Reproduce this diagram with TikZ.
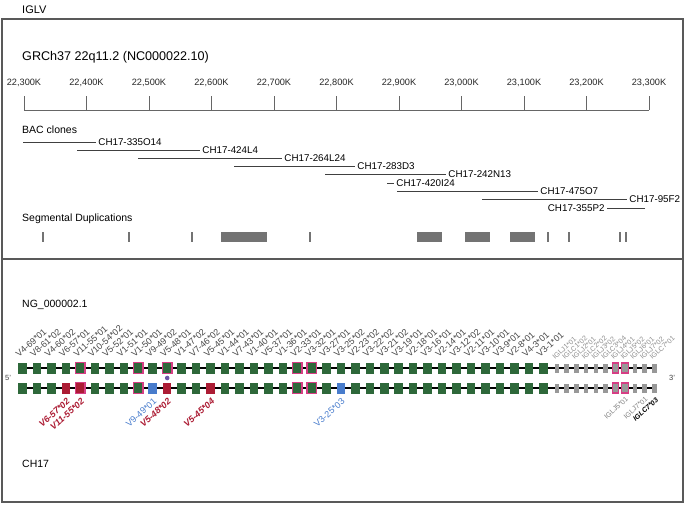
\documentclass[tikz,border=0pt]{standalone}
\usepackage{fontspec}
\setmainfont{Liberation Sans}
\usetikzlibrary{backgrounds}

\definecolor{vgreen}{RGB}{46,104,58}
\definecolor{vred}{RGB}{172,28,52}
\definecolor{vblue}{RGB}{72,124,204}
\definecolor{hilite}{RGB}{214,62,132}
\definecolor{jgray}{RGB}{152,152,152}
\definecolor{dotcol}{RGB}{112,84,168}

\begin{document}
\begin{tikzpicture}[x=1pt, y=-1pt,
    font=\fontsize{10.5}{12}\selectfont,
    frame/.style={draw=black!65, line width=1.1pt},
    heading/.style={anchor=west, inner sep=0pt},
    axis/.style={draw=black!60, line width=0.8pt},
    ticklab/.style={font=\fontsize{9.2}{10}\selectfont, text=black!85},
    clone/.style={draw=black!75, line width=0.9pt},
    clonelab/.style={font=\fontsize{9.8}{11}\selectfont, anchor=west, inner sep=2pt},
    segdup/.style={fill=black!55},
    gene/.style={inner sep=0pt, minimum width=8.5pt, minimum height=11pt},
    vg/.style={gene, fill=vgreen},
    vr/.style={gene, fill=vred},
    vb/.style={gene, fill=vblue},
    vgh/.style={vg, draw=hilite, line width=1.4pt, minimum width=9.5pt, minimum height=11.5pt},
    vrh/.style={vr, draw=hilite, line width=1.4pt, minimum width=9.5pt, minimum height=11.5pt},
    jg/.style={gene, fill=jgray, minimum width=4.5pt, minimum height=9pt},
    jh/.style={jg, draw=hilite, line width=1.2pt, minimum width=6.5pt, minimum height=10pt},
    backbone/.style={draw=black, line width=1.2pt},
    vlab/.style={font=\fontsize{9}{10}\selectfont, text=black!72, rotate=42,
                 anchor=base west, inner sep=0pt},
    jlab/.style={vlab, font=\fontsize{7}{8}\selectfont, text=black!45},
    alt/.style={font=\fontsize{9}{10}\selectfont, rotate=42, anchor=east, inner sep=0pt},
    strand/.style={font=\fontsize{7.5}{8}\selectfont, text=black!75},
]
\useasboundingbox (0,0) rectangle (685,504);

% --- panels ---
\node[heading, font=\fontsize{11}{13}\selectfont] (locus) at (22,10) {IGLV};
\draw[frame] (2,19) rectangle (683,502);
\draw[frame] (2,259) -- (683,259);

% --- genomic axis ---
\node[heading, font=\fontsize{12.6}{14}\selectfont] (asm) at (22,57) {GRCh37 22q11.2 (NC000022.10)};
\draw[axis] (24,110) -- (649,110);
\foreach \k/\lab in {0/{22,300K},1/{22,400K},2/{22,500K},3/{22,600K},4/{22,700K},
    5/{22,800K},6/{22,900K},7/{23,000K},8/{23,100K},9/{23,200K},10/{23,300K}} {
  \draw[axis] ({24+62.5*\k},96) -- ({24+62.5*\k},110);
  \node[ticklab] (tk\k) at ({24+62.5*\k},83) {\lab};
}

% --- BAC clones ---
\node[heading] (bac) at (22,130) {BAC clones};
\draw[clone] (23,142) -- (96,142) node[clonelab] (c1) {CH17-335O14};
\draw[clone] (77,150) -- (200,150) node[clonelab] (c2) {CH17-424L4};
\draw[clone] (138,158) -- (282,158) node[clonelab] (c3) {CH17-264L24};
\draw[clone] (234,166) -- (355,166) node[clonelab] (c4) {CH17-283D3};
\draw[clone] (325,174) -- (446,174) node[clonelab] (c5) {CH17-242N13};
\draw[clone] (387,183) -- (394,183) node[clonelab] (c6) {CH17-420I24};
\draw[clone] (397,191) -- (538,191) node[clonelab] (c7) {CH17-475O7};
\draw[clone] (482,199.5) -- (627,199.5) node[clonelab] (c8) {CH17-95F2};
\draw[clone] (645,208) -- (607,208) node[clonelab, anchor=east] (c9) {CH17-355P2};

% --- segmental duplications ---
\node[heading] (sd) at (22,219) {Segmental Duplications};
\foreach \a/\b in {41.5/43.5, 127.5/129.5, 190.5/192.5, 221/267, 309/311, 417/442,
    465/490, 510/535, 547/549, 568/570, 619/621, 625/627}
  \fill[segdup] (\a,232) rectangle (\b,242);

% --- IGLV genes, reference (top) and CH17 (bottom) ---
\node[heading] (ng) at (22,305) {NG\_000002.1};
\node[heading] (ch) at (22,464) {CH17};

\foreach \s [count=\i from 0] in {vg,vg,vg,vg,vgh,vg,vg,vg,vgh,vg,vgh,vg,vg,vg,vg,vg,vg,vg,vg,
    vgh,vgh,vg,vg,vg,vg,vg,vg,vg,vg,vg,vg,vg,vg,vg,vg,vg,vg}
  \node[\s] (t\i) at ({22.5+14.47*\i},368) {};
\foreach \s [count=\i from 0] in {vg,vg,vg,vr,vrh,vg,vg,vg,vgh,vb,vr,vg,vg,vr,vg,vg,vg,vg,vg,
    vgh,vgh,vg,vb,vg,vg,vg,vg,vg,vg,vg,vg,vg,vg,vg,vg,vg,vg}
  \node[\s] (b\i) at ({22.5+14.47*\i},388) {};
\foreach \s [count=\j from 0] in {jg,jg,jg,jg,jg,jg,jh,jh,jg,jg,jg} {
  \node[\s] (tj\j) at ({557+9.73*\j},368) {};
  \node[\s] (bj\j) at ({557+9.73*\j},388) {};
}
\begin{scope}[on background layer]
  \draw[backbone] (t0.center) -- (tj10.center);
  \draw[backbone] (b0.center) -- (bj10.center);
\end{scope}

\fill[dotcol] ({22.5+14.47*10},378) circle (2.3);
\node[strand] (five) at (8,378) {5'};
\node[strand] (three) at (672,378) {3'};

% --- allele names ---
\foreach \lab [count=\i from 0] in {V4-69*01,V8-61*02,V4-60*02,V6-57*01,V11-55*01,V10-54*02,
    V5-52*01,V1-51*01,V1-50*01,V9-49*02,V5-48*01,V1-47*02,V7-46*02,V5-45*01,V1-44*01,
    V7-43*01,V1-40*01,V5-37*01,V1-36*01,V2-33*01,V3-32*01,V3-27*01,V3-25*02,V2-23*02,
    V3-22*02,V3-21*02,V3-19*01,V2-18*01,V3-16*01,V2-14*01,V3-12*02,V2-11*01,V3-10*01,
    V3-9*01,V2-8*01,V4-3*01,V3-1*01}
  \node[vlab] (tl\i) at ({19+14.47*\i},358) {\lab};
\foreach \lab [count=\j from 0] in {IGLJ1*01,IGLC1*02,IGLJ2*01,IGLC2*02,IGLJ3*02,IGLC3*04,
    IGLJ4*01,IGLJ5*02,IGLJ6*01,IGLJ7*02,IGLC7*01}
  \node[jlab] (tjl\j) at ({555+9.73*\j},360) {\lab};

\foreach \i/\lab in {3/V6-57*02, 4/V11-55*02, 10/V5-48*02, 13/V5-45*04}
  \node[alt, text=vred, font=\fontsize{9}{10}\selectfont\bfseries\itshape] (bl\i)
    at ({25+14.47*\i},400) {\lab};
\foreach \i/\lab in {9/V9-49*01, 22/V3-25*03}
  \node[alt, text=vblue] (bl\i) at ({25+14.47*\i},400) {\lab};
\node[alt, text=black!50, font=\fontsize{7}{8}\selectfont] (bjl7) at ({559+9.73*7},398) {IGLJ5*01};
\node[alt, text=black!50, font=\fontsize{7}{8}\selectfont] (bjl9) at ({559+9.73*9},398) {IGLJ7*01};
\node[alt, font=\fontsize{7}{8}\selectfont\bfseries\itshape] (bjl10) at ({560+9.73*10},399) {IGLC7*03};
\end{tikzpicture}
\end{document}
